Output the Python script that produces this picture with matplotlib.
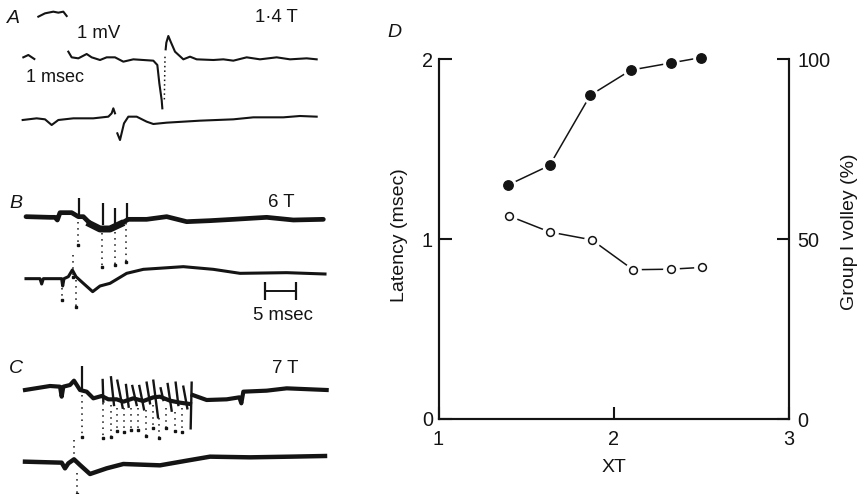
import matplotlib
matplotlib.use('Agg')
import matplotlib.pyplot as plt

plt.rcParams['font.family'] = ['Liberation Sans', 'DejaVu Sans']
plt.rcParams['font.size'] = 12
ink = '#141414'

W, H = 861, 494

## Panel D values
xt_volley = [1.395, 1.634, 1.866, 2.098, 2.328, 2.50]
volley_pct = [65, 70.5, 90, 97, 99, 100.5]
xt_latency = [1.40, 1.634, 1.875, 2.11, 2.325, 2.505]
latency = [1.13, 1.04, 0.996, 0.83, 0.833, 0.843]

## Oscilloscope traces (trace x, trace y)
a_cal_x = [115, 135, 160, 175, 190, 200]
a_cal_y = [50, 40, 35, 38, 35, 48]
a_cal2_x = [70, 85, 103]
a_cal2_y = [172, 165, 177]
a_top1_x = [205, 215, 235, 260, 275, 300, 320, 345, 370, 400, 430, 460, 472, 478, 485, 487]
a_top1_y = [155, 172, 175, 162, 172, 180, 172, 172, 185, 178, 180, 182, 195, 250, 300, 325]
a_top2_x = [497, 499, 505, 512, 525, 550, 570, 590, 640, 670, 700, 740, 780, 830, 870, 920, 950]
a_top2_y = [148, 128, 108, 125, 155, 178, 170, 178, 180, 178, 182, 172, 178, 172, 178, 175, 178]
a_bot1_x = [68, 110, 135, 155, 175, 220, 280, 325, 335, 340, 345]
a_bot1_y = [360, 355, 358, 375, 360, 355, 355, 350, 340, 325, 340]
a_bot2_x = [352, 360, 372, 385, 410, 440, 460, 500, 600, 700, 760, 850, 900, 950]
a_bot2_y = [400, 420, 370, 350, 350, 365, 372, 368, 362, 358, 352, 352, 348, 350]

b_top_x = [78, 150, 165, 172, 180, 215, 235, 250, 275, 300, 330, 360, 385, 440, 500, 560, 630, 700, 800, 880, 970]
b_top_y = [170, 172, 172, 180, 158, 158, 170, 170, 195, 205, 205, 192, 178, 178, 170, 185, 182, 178, 172, 180, 178]
b_spike_x = [238, 310, 346, 380]
b_spike_top = [115, 130, 145, 128]
b_spike_bot = [170, 195, 200, 185]
b_dot_x = [235, 306, 345, 378]
b_dot_top = [185, 220, 215, 190]
b_dot_bot = [255, 320, 315, 305]
b_bot_x = [78, 120, 125, 130, 185, 188, 192, 205, 217, 228, 250, 278, 300, 330, 380, 430, 550, 640, 720, 860, 975]
b_bot_y = [356, 356, 372, 356, 356, 378, 356, 350, 330, 350, 370, 395, 378, 370, 340, 328, 320, 328, 340, 338, 342]
b_bot_spike_x = [218, 187, 227]
b_bot_spike_top = [285, 385, 360]
b_bot_spike_bot = [350, 420, 442]
b_bar_x = [795, 887]
b_bar_y = 392
b_bar_top, b_bar_bot = 365, 420

# slow baseline of the upper C trace, then the thin repetitive spikes on it
c_top_x = [75, 150, 180, 185, 190, 210, 222, 240, 260, 280, 305, 325, 350, 370, 400, 430, 460, 480, 510, 540, 570]
c_top_y = [150, 138, 140, 170, 140, 135, 122, 150, 155, 175, 168, 178, 178, 185, 175, 183, 172, 170, 182, 188, 192]
c_top2_x = [578, 620, 680, 718, 724, 730, 800, 860, 980]
c_top2_y = [165, 180, 178, 172, 190, 155, 152, 145, 150]
c_tooth_x = [308, 333, 352, 378, 397, 418, 440, 460, 482, 503, 527, 550, 575]
c_tooth_top = [120, 112, 122, 135, 138, 138, 128, 122, 145, 132, 128, 140, 128]
c_tooth_end_x = [310, 342, 368, 386, 410, 432, 450, 474, 490, 515, 535, 562, 572]
c_tooth_end_y = [185, 195, 203, 200, 195, 208, 190, 232, 180, 212, 195, 205, 265]
c_spike_x = [245]
c_spike_top = [78]
c_spike_bot = [150]
c_dot_x = [245, 308, 332, 350, 373, 393, 413, 437, 458, 478, 498, 525, 547]
c_dot_top = [165, 190, 195, 205, 205, 205, 205, 210, 195, 235, 205, 215, 205]
c_dot_bot = [290, 295, 290, 272, 275, 270, 270, 288, 265, 295, 265, 272, 275]
c_bot_x = [75, 185, 195, 205, 222, 240, 270, 320, 370, 480, 560, 630, 750, 870, 975]
c_bot_y = [365, 368, 385, 370, 358, 375, 402, 385, 372, 376, 362, 350, 352, 350, 348]
c_bot_spike_x = [222, 232]
c_bot_spike_top = [300, 400]
c_bot_spike_bot = [360, 462]

fig = plt.figure(figsize=(W/100, H/100), dpi=100)


def panel(y0, h):
    # axes in zoomed-crop units (3 per picture pixel) over the left column
    a = fig.add_axes([0, 1-(y0+h)/H, 340/W, h/H])
    a.set_xlim(0, 1020)
    a.set_ylim(h*3, 0)
    a.axis('off')
    return a


def dots(a, x, y0, y1):
    # dotted fast sweeps with the darker spot where each one ends
    a.vlines(x, y0, y1, color=ink, lw=1.1, ls=(0, (1, 3)))
    a.plot(x, y1, ls='', marker='s', ms=1.8, color=ink)


## Panel A
pa = panel(0, 150)
for x, y in [(a_cal_x, a_cal_y), (a_cal2_x, a_cal2_y), (a_top1_x, a_top1_y),
             (a_top2_x, a_top2_y), (a_bot1_x, a_bot1_y), (a_bot2_x, a_bot2_y)]:
    pa.plot(x, y, color=ink, lw=1.5, solid_joinstyle='round')
pa.plot([495, 493], [170, 300], color=ink, lw=1.1, ls=(0, (1, 2)))
pa.text(22, 70, 'A', style='italic', fontsize=14, color=ink)
pa.text(230, 115, '1 mV', fontsize=13.4, color=ink)
pa.text(78, 245, '1 msec', fontsize=13, color=ink)
pa.text(765, 65, '1·4 T', fontsize=13.4, color=ink)

## Panel B
pb = panel(160, 170)
pb.plot(b_top_x, b_top_y, color=ink, lw=3.4, solid_capstyle='round')
pb.plot([270, 300, 330, 362], [192, 207, 207, 192], color=ink, lw=5)
pb.vlines(b_spike_x, b_spike_top, b_spike_bot, color=ink, lw=1.6)
dots(pb, b_dot_x, b_dot_top, b_dot_bot)
pb.plot(b_bot_x, b_bot_y, color=ink, lw=2.2)
dots(pb, b_bot_spike_x, b_bot_spike_top, b_bot_spike_bot)
pb.plot(b_bar_x, [b_bar_y, b_bar_y], color=ink, lw=1.4)
pb.vlines(b_bar_x, b_bar_top, b_bar_bot, color=ink, lw=1.6)
pb.text(28, 145, 'B', style='italic', fontsize=14, color=ink)
pb.text(805, 142, '6 T', fontsize=13.4, color=ink)
pb.text(760, 480, '5 msec', fontsize=13.4, color=ink)

## Panel C
pc = panel(340, 154)
pc.plot(c_top_x, c_top_y, color=ink, lw=3, solid_joinstyle='round')
pc.plot(c_top2_x, c_top2_y, color=ink, lw=3, solid_joinstyle='round')
for x0, y0, x1, y1 in zip(c_tooth_x, c_tooth_top, c_tooth_end_x, c_tooth_end_y):
    pc.plot([x0, x1], [y0, y1], color=ink, lw=1.7)
pc.vlines(c_spike_x, c_spike_top, c_spike_bot, color=ink, lw=1.6)
dots(pc, c_dot_x, c_dot_top, c_dot_bot)
pc.plot(c_bot_x, c_bot_y, color=ink, lw=3.2)
dots(pc, c_bot_spike_x, c_bot_spike_top, c_bot_spike_bot)
pc.text(28, 100, 'C', style='italic', fontsize=14, color=ink)
pc.text(815, 100, '7 T', fontsize=13.4, color=ink)

## Panel D
left, right, bottom, top = 438.5, 789, 419, 59.3
ax = fig.add_axes([left/W, 1-bottom/H, (right-left)/W, (bottom-top)/H])
ax2 = ax.twinx()
for a in (ax, ax2):
    a.spines['top'].set_visible(False)
    for s in a.spines.values():
        s.set_linewidth(1.5)
        s.set_color(ink)
    a.patch.set_visible(False)
ax.set_xlim(1, 3)
ax.set_ylim(0, 2)
ax2.set_ylim(0, 100)
ax.set_xticks([1, 2, 3])
ax.set_yticks([0, 1, 2])
ax2.set_yticks([0, 50, 100])
ax.tick_params(axis='x', direction='in', length=9, width=1.5, pad=8, colors=ink, labelsize=14.3)
ax.tick_params(axis='y', direction='in', length=9, width=1.5, pad=4, colors=ink, labelsize=14.3)
ax2.tick_params(axis='y', direction='in', length=9, width=1.5, pad=6, colors=ink, labelsize=14.3)

# white halo gives the gaps between the line and each circle
ax.plot(xt_latency, latency, color=ink, lw=1.1, zorder=2)
ax.plot(xt_latency, latency, ls='', marker='o', ms=11, mfc='white', mec='white', zorder=3)
ax.plot(xt_latency, latency, ls='', marker='o', ms=5.6, mfc='white', mec=ink, mew=1.1, zorder=4)
ax2.plot(xt_volley, volley_pct, color=ink, lw=1.1, zorder=2, clip_on=False)
ax2.plot(xt_volley, volley_pct, ls='', marker='o', ms=11, mfc='white', mec='white', zorder=3, clip_on=False)
ax2.plot(xt_volley, volley_pct, ls='', marker='o', ms=6.8, mfc=ink, mec=ink, zorder=4, clip_on=False)

fig.text(614/W, 1-467/H, 'XT', fontsize=14, color=ink, ha='center', va='center')
fig.text(399/W, 1-235/H, 'Latency (msec)', fontsize=14, color=ink, ha='center', va='center', rotation=90)
fig.text(849/W, 1-232/H, 'Group I volley (%)', fontsize=14, color=ink, ha='center', va='center', rotation=90)
fig.text(387/W, 1-37/H, 'D', style='italic', fontsize=14, color=ink)

fig.savefig('out.png', dpi=100)
